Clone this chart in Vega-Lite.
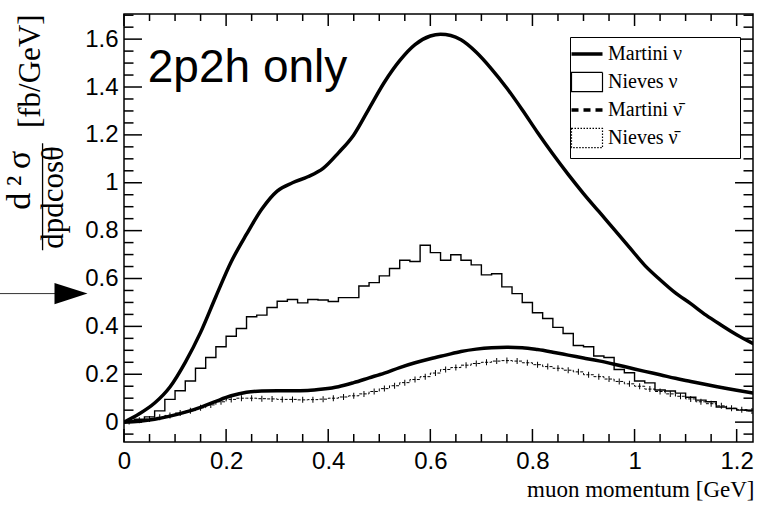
{
  "$schema": "https://vega.github.io/schema/vega-lite/v6.json",
  "width": 629,
  "height": 428,
  "autosize": {"type": "none"},
  "padding": {"left": 124, "top": 14, "right": 11, "bottom": 68},
  "background": "white",
  "config": {"view": {"stroke": "#000", "strokeWidth": 1.5}, "font": "Liberation Sans"},
  "datasets": {
    "curves": [
      {"p": 0, "series": "Martini ν", "v": 0},
      {"p": 0.03, "series": "Martini ν", "v": 0.035},
      {"p": 0.06, "series": "Martini ν", "v": 0.08},
      {"p": 0.09, "series": "Martini ν", "v": 0.147},
      {"p": 0.12, "series": "Martini ν", "v": 0.25},
      {"p": 0.15, "series": "Martini ν", "v": 0.375},
      {"p": 0.18, "series": "Martini ν", "v": 0.525},
      {"p": 0.21, "series": "Martini ν", "v": 0.67},
      {"p": 0.24, "series": "Martini ν", "v": 0.785},
      {"p": 0.27, "series": "Martini ν", "v": 0.89},
      {"p": 0.30, "series": "Martini ν", "v": 0.965},
      {"p": 0.33, "series": "Martini ν", "v": 1.0},
      {"p": 0.36, "series": "Martini ν", "v": 1.025},
      {"p": 0.39, "series": "Martini ν", "v": 1.06},
      {"p": 0.42, "series": "Martini ν", "v": 1.125},
      {"p": 0.45, "series": "Martini ν", "v": 1.2},
      {"p": 0.48, "series": "Martini ν", "v": 1.31},
      {"p": 0.51, "series": "Martini ν", "v": 1.42},
      {"p": 0.54, "series": "Martini ν", "v": 1.51},
      {"p": 0.57, "series": "Martini ν", "v": 1.577},
      {"p": 0.60, "series": "Martini ν", "v": 1.613},
      {"p": 0.62, "series": "Martini ν", "v": 1.62},
      {"p": 0.64, "series": "Martini ν", "v": 1.615},
      {"p": 0.66, "series": "Martini ν", "v": 1.597},
      {"p": 0.69, "series": "Martini ν", "v": 1.545},
      {"p": 0.72, "series": "Martini ν", "v": 1.475},
      {"p": 0.75, "series": "Martini ν", "v": 1.395},
      {"p": 0.78, "series": "Martini ν", "v": 1.305},
      {"p": 0.81, "series": "Martini ν", "v": 1.21},
      {"p": 0.84, "series": "Martini ν", "v": 1.12},
      {"p": 0.87, "series": "Martini ν", "v": 1.035},
      {"p": 0.90, "series": "Martini ν", "v": 0.955},
      {"p": 0.93, "series": "Martini ν", "v": 0.88},
      {"p": 0.96, "series": "Martini ν", "v": 0.805},
      {"p": 0.99, "series": "Martini ν", "v": 0.73},
      {"p": 1.02, "series": "Martini ν", "v": 0.655},
      {"p": 1.05, "series": "Martini ν", "v": 0.595},
      {"p": 1.08, "series": "Martini ν", "v": 0.54},
      {"p": 1.11, "series": "Martini ν", "v": 0.495},
      {"p": 1.14, "series": "Martini ν", "v": 0.447},
      {"p": 1.17, "series": "Martini ν", "v": 0.405},
      {"p": 1.20, "series": "Martini ν", "v": 0.365},
      {"p": 1.235, "series": "Martini ν", "v": 0.325},
      {"p": 0, "series": "Martini \u03bd\u0304", "v": 0},
      {"p": 0.03, "series": "Martini \u03bd\u0304", "v": 0.004},
      {"p": 0.06, "series": "Martini \u03bd\u0304", "v": 0.012},
      {"p": 0.09, "series": "Martini \u03bd\u0304", "v": 0.025},
      {"p": 0.12, "series": "Martini \u03bd\u0304", "v": 0.042},
      {"p": 0.15, "series": "Martini \u03bd\u0304", "v": 0.062},
      {"p": 0.18, "series": "Martini \u03bd\u0304", "v": 0.087},
      {"p": 0.21, "series": "Martini \u03bd\u0304", "v": 0.11},
      {"p": 0.24, "series": "Martini \u03bd\u0304", "v": 0.125},
      {"p": 0.27, "series": "Martini \u03bd\u0304", "v": 0.13},
      {"p": 0.30, "series": "Martini \u03bd\u0304", "v": 0.131},
      {"p": 0.33, "series": "Martini \u03bd\u0304", "v": 0.131},
      {"p": 0.36, "series": "Martini \u03bd\u0304", "v": 0.132},
      {"p": 0.39, "series": "Martini \u03bd\u0304", "v": 0.138},
      {"p": 0.42, "series": "Martini \u03bd\u0304", "v": 0.148},
      {"p": 0.45, "series": "Martini \u03bd\u0304", "v": 0.165},
      {"p": 0.48, "series": "Martini \u03bd\u0304", "v": 0.185},
      {"p": 0.51, "series": "Martini \u03bd\u0304", "v": 0.205},
      {"p": 0.54, "series": "Martini \u03bd\u0304", "v": 0.228},
      {"p": 0.57, "series": "Martini \u03bd\u0304", "v": 0.248},
      {"p": 0.60, "series": "Martini \u03bd\u0304", "v": 0.265},
      {"p": 0.63, "series": "Martini \u03bd\u0304", "v": 0.28},
      {"p": 0.66, "series": "Martini \u03bd\u0304", "v": 0.295},
      {"p": 0.69, "series": "Martini \u03bd\u0304", "v": 0.305},
      {"p": 0.72, "series": "Martini \u03bd\u0304", "v": 0.311},
      {"p": 0.75, "series": "Martini \u03bd\u0304", "v": 0.313},
      {"p": 0.78, "series": "Martini \u03bd\u0304", "v": 0.311},
      {"p": 0.81, "series": "Martini \u03bd\u0304", "v": 0.303},
      {"p": 0.84, "series": "Martini \u03bd\u0304", "v": 0.292},
      {"p": 0.87, "series": "Martini \u03bd\u0304", "v": 0.28},
      {"p": 0.90, "series": "Martini \u03bd\u0304", "v": 0.268},
      {"p": 0.93, "series": "Martini \u03bd\u0304", "v": 0.256},
      {"p": 0.96, "series": "Martini \u03bd\u0304", "v": 0.242},
      {"p": 0.99, "series": "Martini \u03bd\u0304", "v": 0.227},
      {"p": 1.02, "series": "Martini \u03bd\u0304", "v": 0.212},
      {"p": 1.05, "series": "Martini \u03bd\u0304", "v": 0.198},
      {"p": 1.08, "series": "Martini \u03bd\u0304", "v": 0.183},
      {"p": 1.11, "series": "Martini \u03bd\u0304", "v": 0.17},
      {"p": 1.14, "series": "Martini \u03bd\u0304", "v": 0.157},
      {"p": 1.17, "series": "Martini \u03bd\u0304", "v": 0.145},
      {"p": 1.20, "series": "Martini \u03bd\u0304", "v": 0.133},
      {"p": 1.235, "series": "Martini \u03bd\u0304", "v": 0.12}
    ],
    "nieves_nu": [
      {"p": 0.01, "series": "Nieves ν", "v": 0.004}, {"p": 0.03, "series": "Nieves ν", "v": 0.012},
      {"p": 0.05, "series": "Nieves ν", "v": 0.022}, {"p": 0.07, "series": "Nieves ν", "v": 0.047},
      {"p": 0.09, "series": "Nieves ν", "v": 0.095}, {"p": 0.11, "series": "Nieves ν", "v": 0.131},
      {"p": 0.13, "series": "Nieves ν", "v": 0.172}, {"p": 0.15, "series": "Nieves ν", "v": 0.225},
      {"p": 0.17, "series": "Nieves ν", "v": 0.27}, {"p": 0.19, "series": "Nieves ν", "v": 0.315},
      {"p": 0.21, "series": "Nieves ν", "v": 0.359}, {"p": 0.23, "series": "Nieves ν", "v": 0.391},
      {"p": 0.25, "series": "Nieves ν", "v": 0.44}, {"p": 0.27, "series": "Nieves ν", "v": 0.447},
      {"p": 0.29, "series": "Nieves ν", "v": 0.479}, {"p": 0.31, "series": "Nieves ν", "v": 0.505},
      {"p": 0.33, "series": "Nieves ν", "v": 0.512}, {"p": 0.35, "series": "Nieves ν", "v": 0.498},
      {"p": 0.37, "series": "Nieves ν", "v": 0.512}, {"p": 0.39, "series": "Nieves ν", "v": 0.51},
      {"p": 0.41, "series": "Nieves ν", "v": 0.504}, {"p": 0.43, "series": "Nieves ν", "v": 0.52},
      {"p": 0.45, "series": "Nieves ν", "v": 0.52}, {"p": 0.47, "series": "Nieves ν", "v": 0.569},
      {"p": 0.49, "series": "Nieves ν", "v": 0.583}, {"p": 0.51, "series": "Nieves ν", "v": 0.611},
      {"p": 0.53, "series": "Nieves ν", "v": 0.642}, {"p": 0.55, "series": "Nieves ν", "v": 0.676},
      {"p": 0.57, "series": "Nieves ν", "v": 0.671}, {"p": 0.59, "series": "Nieves ν", "v": 0.739},
      {"p": 0.61, "series": "Nieves ν", "v": 0.708}, {"p": 0.63, "series": "Nieves ν", "v": 0.676},
      {"p": 0.65, "series": "Nieves ν", "v": 0.699}, {"p": 0.67, "series": "Nieves ν", "v": 0.676},
      {"p": 0.69, "series": "Nieves ν", "v": 0.657}, {"p": 0.71, "series": "Nieves ν", "v": 0.615},
      {"p": 0.73, "series": "Nieves ν", "v": 0.62}, {"p": 0.75, "series": "Nieves ν", "v": 0.565},
      {"p": 0.77, "series": "Nieves ν", "v": 0.537}, {"p": 0.79, "series": "Nieves ν", "v": 0.5},
      {"p": 0.81, "series": "Nieves ν", "v": 0.457}, {"p": 0.83, "series": "Nieves ν", "v": 0.433},
      {"p": 0.85, "series": "Nieves ν", "v": 0.396}, {"p": 0.87, "series": "Nieves ν", "v": 0.37},
      {"p": 0.89, "series": "Nieves ν", "v": 0.32}, {"p": 0.91, "series": "Nieves ν", "v": 0.315},
      {"p": 0.93, "series": "Nieves ν", "v": 0.276}, {"p": 0.95, "series": "Nieves ν", "v": 0.27},
      {"p": 0.97, "series": "Nieves ν", "v": 0.22}, {"p": 0.99, "series": "Nieves ν", "v": 0.206},
      {"p": 1.01, "series": "Nieves ν", "v": 0.172}, {"p": 1.03, "series": "Nieves ν", "v": 0.164},
      {"p": 1.05, "series": "Nieves ν", "v": 0.134}, {"p": 1.07, "series": "Nieves ν", "v": 0.13},
      {"p": 1.09, "series": "Nieves ν", "v": 0.121}, {"p": 1.11, "series": "Nieves ν", "v": 0.104},
      {"p": 1.13, "series": "Nieves ν", "v": 0.092}, {"p": 1.15, "series": "Nieves ν", "v": 0.085},
      {"p": 1.17, "series": "Nieves ν", "v": 0.063}, {"p": 1.19, "series": "Nieves ν", "v": 0.057},
      {"p": 1.21, "series": "Nieves ν", "v": 0.05}, {"p": 1.23, "series": "Nieves ν", "v": 0.047}
    ],
    "nieves_nubar": [
      {"p": 0.01, "series": "Nieves \u03bd\u0304", "v": 0.003}, {"p": 0.03, "series": "Nieves \u03bd\u0304", "v": 0.008},
      {"p": 0.05, "series": "Nieves \u03bd\u0304", "v": 0.013}, {"p": 0.07, "series": "Nieves \u03bd\u0304", "v": 0.02},
      {"p": 0.09, "series": "Nieves \u03bd\u0304", "v": 0.028}, {"p": 0.11, "series": "Nieves \u03bd\u0304", "v": 0.038},
      {"p": 0.13, "series": "Nieves \u03bd\u0304", "v": 0.048}, {"p": 0.15, "series": "Nieves \u03bd\u0304", "v": 0.06},
      {"p": 0.17, "series": "Nieves \u03bd\u0304", "v": 0.072}, {"p": 0.19, "series": "Nieves \u03bd\u0304", "v": 0.085},
      {"p": 0.21, "series": "Nieves \u03bd\u0304", "v": 0.095}, {"p": 0.23, "series": "Nieves \u03bd\u0304", "v": 0.1},
      {"p": 0.25, "series": "Nieves \u03bd\u0304", "v": 0.1}, {"p": 0.27, "series": "Nieves \u03bd\u0304", "v": 0.098},
      {"p": 0.29, "series": "Nieves \u03bd\u0304", "v": 0.097}, {"p": 0.31, "series": "Nieves \u03bd\u0304", "v": 0.095},
      {"p": 0.33, "series": "Nieves \u03bd\u0304", "v": 0.095}, {"p": 0.35, "series": "Nieves \u03bd\u0304", "v": 0.093},
      {"p": 0.37, "series": "Nieves \u03bd\u0304", "v": 0.094}, {"p": 0.39, "series": "Nieves \u03bd\u0304", "v": 0.096},
      {"p": 0.41, "series": "Nieves \u03bd\u0304", "v": 0.1}, {"p": 0.43, "series": "Nieves \u03bd\u0304", "v": 0.105},
      {"p": 0.45, "series": "Nieves \u03bd\u0304", "v": 0.11}, {"p": 0.47, "series": "Nieves \u03bd\u0304", "v": 0.118},
      {"p": 0.49, "series": "Nieves \u03bd\u0304", "v": 0.128}, {"p": 0.51, "series": "Nieves \u03bd\u0304", "v": 0.14},
      {"p": 0.53, "series": "Nieves \u03bd\u0304", "v": 0.152}, {"p": 0.55, "series": "Nieves \u03bd\u0304", "v": 0.165},
      {"p": 0.57, "series": "Nieves \u03bd\u0304", "v": 0.178}, {"p": 0.59, "series": "Nieves \u03bd\u0304", "v": 0.19},
      {"p": 0.61, "series": "Nieves \u03bd\u0304", "v": 0.205}, {"p": 0.63, "series": "Nieves \u03bd\u0304", "v": 0.22},
      {"p": 0.65, "series": "Nieves \u03bd\u0304", "v": 0.228}, {"p": 0.67, "series": "Nieves \u03bd\u0304", "v": 0.238},
      {"p": 0.69, "series": "Nieves \u03bd\u0304", "v": 0.245}, {"p": 0.71, "series": "Nieves \u03bd\u0304", "v": 0.25},
      {"p": 0.73, "series": "Nieves \u03bd\u0304", "v": 0.255}, {"p": 0.75, "series": "Nieves \u03bd\u0304", "v": 0.257},
      {"p": 0.77, "series": "Nieves \u03bd\u0304", "v": 0.255}, {"p": 0.79, "series": "Nieves \u03bd\u0304", "v": 0.248},
      {"p": 0.81, "series": "Nieves \u03bd\u0304", "v": 0.24}, {"p": 0.83, "series": "Nieves \u03bd\u0304", "v": 0.232},
      {"p": 0.85, "series": "Nieves \u03bd\u0304", "v": 0.225}, {"p": 0.87, "series": "Nieves \u03bd\u0304", "v": 0.217},
      {"p": 0.89, "series": "Nieves \u03bd\u0304", "v": 0.21}, {"p": 0.91, "series": "Nieves \u03bd\u0304", "v": 0.198},
      {"p": 0.93, "series": "Nieves \u03bd\u0304", "v": 0.19}, {"p": 0.95, "series": "Nieves \u03bd\u0304", "v": 0.18},
      {"p": 0.97, "series": "Nieves \u03bd\u0304", "v": 0.17}, {"p": 0.99, "series": "Nieves \u03bd\u0304", "v": 0.16},
      {"p": 1.01, "series": "Nieves \u03bd\u0304", "v": 0.15}, {"p": 1.03, "series": "Nieves \u03bd\u0304", "v": 0.138},
      {"p": 1.05, "series": "Nieves \u03bd\u0304", "v": 0.128}, {"p": 1.07, "series": "Nieves \u03bd\u0304", "v": 0.118},
      {"p": 1.09, "series": "Nieves \u03bd\u0304", "v": 0.108}, {"p": 1.11, "series": "Nieves \u03bd\u0304", "v": 0.097},
      {"p": 1.13, "series": "Nieves \u03bd\u0304", "v": 0.085}, {"p": 1.15, "series": "Nieves \u03bd\u0304", "v": 0.077},
      {"p": 1.17, "series": "Nieves \u03bd\u0304", "v": 0.068}, {"p": 1.19, "series": "Nieves \u03bd\u0304", "v": 0.058},
      {"p": 1.21, "series": "Nieves \u03bd\u0304", "v": 0.052}, {"p": 1.23, "series": "Nieves \u03bd\u0304", "v": 0.047}
    ],
    "xmaj": [{"q": 0}, {"q": 0.2}, {"q": 0.4}, {"q": 0.6}, {"q": 0.8}, {"q": 1.0}, {"q": 1.2}],
    "xmin": [{"q": 0.05}, {"q": 0.1}, {"q": 0.15}, {"q": 0.25}, {"q": 0.3}, {"q": 0.35}, {"q": 0.45}, {"q": 0.5}, {"q": 0.55}, {"q": 0.65}, {"q": 0.7}, {"q": 0.75}, {"q": 0.85}, {"q": 0.9}, {"q": 0.95}, {"q": 1.05}, {"q": 1.1}, {"q": 1.15}],
    "ymaj": [{"q": 0}, {"q": 0.2}, {"q": 0.4}, {"q": 0.6}, {"q": 0.8}, {"q": 1.0}, {"q": 1.2}, {"q": 1.4}, {"q": 1.6}],
    "ymin": [{"q": -0.05}, {"q": 0.05}, {"q": 0.1}, {"q": 0.15}, {"q": 0.25}, {"q": 0.3}, {"q": 0.35}, {"q": 0.45}, {"q": 0.5}, {"q": 0.55}, {"q": 0.65}, {"q": 0.7}, {"q": 0.75}, {"q": 0.85}, {"q": 0.9}, {"q": 0.95}, {"q": 1.05}, {"q": 1.1}, {"q": 1.15}, {"q": 1.25}, {"q": 1.3}, {"q": 1.35}, {"q": 1.45}, {"q": 1.5}, {"q": 1.55}, {"q": 1.65}, {"q": 1.7}]
  },
  "layer": [
    {
      "data": {"name": "curves"},
      "mark": {"type": "line", "strokeWidth": 3.5, "interpolate": "monotone", "clip": true},
      "encoding": {
        "x": {
          "field": "p", "type": "quantitative",
          "scale": {"domain": [0, 1.232], "nice": false, "zero": false},
          "axis": {
            "orient": "bottom",
            "values": [0, 0.2, 0.4, 0.6, 0.8, 1, 1.2],
            "format": "~g",
            "labelFont": "Liberation Sans", "labelFontSize": 24, "labelColor": "#000",
            "labelPadding": 7, "labelOverlap": false, "labelFlush": false, "labelBound": false,
            "ticks": false, "domain": false, "grid": false,
            "title": "muon momentum [GeV]",
            "titleFont": "Liberation Serif", "titleFontSize": 23, "titleFontWeight": "normal", "titleColor": "#000",
            "titleAnchor": "end", "titleAlign": "right", "titleBaseline": "alphabetic", "titleX": 630, "titleY": 54
          }
        },
        "y": {
          "field": "v", "type": "quantitative",
          "scale": {"domain": [-0.083, 1.705], "nice": false, "zero": false},
          "axis": {
            "orient": "left",
            "values": [0, 0.2, 0.4, 0.6, 0.8, 1, 1.2, 1.4, 1.6],
            "format": "~g",
            "labelFont": "Liberation Sans", "labelFontSize": 24, "labelColor": "#000",
            "labelPadding": 6, "labelOverlap": false, "labelBound": false, "labelFlush": false,
            "ticks": false, "domain": false, "grid": false,
            "title": "dpdcosθ",
            "titleFont": "Liberation Serif", "titleFontSize": 31, "titleFontWeight": "normal", "titleColor": "#000",
            "titleAngle": 270, "titleAlign": "center", "titleBaseline": "middle",
            "titleX": -71, "titleY": 183
          }
        },
        "color": {
          "field": "series", "type": "nominal",
          "scale": {"domain": ["Martini ν", "Nieves ν", "Martini \u03bd\u0304", "Nieves \u03bd\u0304"], "range": ["#000", "#000", "#000", "#000"]},
          "legend": {
            "orient": "none", "legendX": 446, "legendY": 23,
            "title": "MMM", "titleOrient": "right", "titleOpacity": 0, "titleFontSize": 20, "titlePadding": 1, "titleAngle": 0,
            "direction": "vertical",
            "strokeColor": "#000", "fillColor": "#fff", "padding": 7,
            "labelFont": "Liberation Serif", "labelFontSize": 20, "labelColor": "#000", "labelOffset": 11,
            "symbolSize": 961, "symbolType": "M-1,0H1", "symbolStrokeWidth": 3, "symbolFillColor": "transparent",
            "rowPadding": 5,
            "encode": {
              "symbols": {
                "update": {
                  "shape": {"signal": "datum.index == 0 || datum.index == 2 ? 'M-1,0H1' : 'M-1,-0.62H1V0.62H-1Z'"},
                  "size": {"value": 961},
                  "strokeWidth": {"signal": "datum.index == 0 || datum.index == 2 ? 3.5 : 1.2"},
                  "strokeDash": {"signal": "datum.index == 2 ? [7,5] : datum.index == 3 ? [1.5,1.5] : [1,0]"},
                  "fill": {"value": "transparent"},
                  "fillOpacity": {"value": 0},
                  "stroke": {"value": "#000"},
                  "opacity": {"value": 1}
                }
              }
            }
          }
        },
        "detail": {"field": "series"}
      }
    },
    {
      "data": {"name": "nieves_nu"},
      "mark": {"type": "line", "strokeWidth": 1.4, "interpolate": "step", "clip": true},
      "encoding": {
        "x": {"field": "p", "type": "quantitative", "scale": {"domain": [0, 1.232], "nice": false, "zero": false}, "axis": null},
        "y": {"field": "v", "type": "quantitative", "scale": {"domain": [-0.083, 1.705], "nice": false, "zero": false}, "axis": null},
        "color": {
          "field": "series", "type": "nominal",
          "scale": {"domain": ["Martini ν", "Nieves ν", "Martini \u03bd\u0304", "Nieves \u03bd\u0304"], "range": ["#000", "#000", "#000", "#000"]}
        }
      }
    },
    {
      "data": {"name": "nieves_nubar"},
      "mark": {"type": "line", "strokeWidth": 1, "interpolate": "step", "clip": true, "strokeDash": [3, 1.5]},
      "encoding": {
        "x": {"field": "p", "type": "quantitative", "scale": {"domain": [0, 1.232], "nice": false, "zero": false}, "axis": null},
        "y": {"field": "v", "type": "quantitative", "scale": {"domain": [-0.083, 1.705], "nice": false, "zero": false}, "axis": null},
        "color": {
          "field": "series", "type": "nominal",
          "scale": {"domain": ["Martini ν", "Nieves ν", "Martini \u03bd\u0304", "Nieves \u03bd\u0304"], "range": ["#000", "#000", "#000", "#000"]}
        }
      }
    },
    {
      "data": {"name": "nieves_nubar"},
      "mark": {"type": "tick", "orient": "vertical", "size": 6, "thickness": 1, "clip": true, "opacity": 1},
      "encoding": {
        "x": {"field": "p", "type": "quantitative", "scale": {"domain": [0, 1.232], "nice": false, "zero": false}, "axis": null},
        "y": {"field": "v", "type": "quantitative", "scale": {"domain": [-0.083, 1.705], "nice": false, "zero": false}, "axis": null},
        "color": {
          "field": "series", "type": "nominal",
          "scale": {"domain": ["Martini ν", "Nieves ν", "Martini \u03bd\u0304", "Nieves \u03bd\u0304"], "range": ["#000", "#000", "#000", "#000"]}
        }
      }
    },
    {
      "data": {"name": "xmaj"},
      "mark": {"type": "rule", "strokeWidth": 1.5, "color": "#000", "opacity": 1},
      "encoding": {
        "x": {"field": "q", "type": "quantitative", "scale": {"domain": [0, 1.232], "nice": false, "zero": false}, "axis": null},
        "y": {"datum": -0.083, "type": "quantitative", "scale": {"domain": [-0.083, 1.705], "nice": false, "zero": false}, "axis": null},
        "y2": {"datum": -0.0287}
      }
    },
    {
      "data": {"name": "xmin"},
      "mark": {"type": "rule", "strokeWidth": 1.5, "color": "#000", "opacity": 1},
      "encoding": {
        "x": {"field": "q", "type": "quantitative", "scale": {"domain": [0, 1.232], "nice": false, "zero": false}, "axis": null},
        "y": {"datum": -0.083, "type": "quantitative", "scale": {"domain": [-0.083, 1.705], "nice": false, "zero": false}, "axis": null},
        "y2": {"datum": -0.0496}
      }
    },
    {
      "data": {"name": "xmaj"},
      "mark": {"type": "rule", "strokeWidth": 1.5, "color": "#000", "opacity": 1},
      "encoding": {
        "x": {"field": "q", "type": "quantitative", "scale": {"domain": [0, 1.232], "nice": false, "zero": false}, "axis": null},
        "y": {"datum": 1.705, "type": "quantitative", "scale": {"domain": [-0.083, 1.705], "nice": false, "zero": false}, "axis": null},
        "y2": {"datum": 1.6549}
      }
    },
    {
      "data": {"name": "xmin"},
      "mark": {"type": "rule", "strokeWidth": 1.5, "color": "#000", "opacity": 1},
      "encoding": {
        "x": {"field": "q", "type": "quantitative", "scale": {"domain": [0, 1.232], "nice": false, "zero": false}, "axis": null},
        "y": {"datum": 1.705, "type": "quantitative", "scale": {"domain": [-0.083, 1.705], "nice": false, "zero": false}, "axis": null},
        "y2": {"datum": 1.6758}
      }
    },
    {
      "data": {"name": "ymaj"},
      "mark": {"type": "rule", "strokeWidth": 1.5, "color": "#000", "opacity": 1},
      "encoding": {
        "y": {"field": "q", "type": "quantitative", "scale": {"domain": [-0.083, 1.705], "nice": false, "zero": false}, "axis": null},
        "x": {"datum": 0, "type": "quantitative", "scale": {"domain": [0, 1.232], "nice": false, "zero": false}, "axis": null},
        "x2": {"datum": 0.0352}
      }
    },
    {
      "data": {"name": "ymin"},
      "mark": {"type": "rule", "strokeWidth": 1.5, "color": "#000", "opacity": 1},
      "encoding": {
        "y": {"field": "q", "type": "quantitative", "scale": {"domain": [-0.083, 1.705], "nice": false, "zero": false}, "axis": null},
        "x": {"datum": 0, "type": "quantitative", "scale": {"domain": [0, 1.232], "nice": false, "zero": false}, "axis": null},
        "x2": {"datum": 0.0186}
      }
    },
    {
      "data": {"name": "ymaj"},
      "mark": {"type": "rule", "strokeWidth": 1.5, "color": "#000", "opacity": 1},
      "encoding": {
        "y": {"field": "q", "type": "quantitative", "scale": {"domain": [-0.083, 1.705], "nice": false, "zero": false}, "axis": null},
        "x": {"datum": 1.232, "type": "quantitative", "scale": {"domain": [0, 1.232], "nice": false, "zero": false}, "axis": null},
        "x2": {"datum": 1.1968}
      }
    },
    {
      "data": {"name": "ymin"},
      "mark": {"type": "rule", "strokeWidth": 1.5, "color": "#000", "opacity": 1},
      "encoding": {
        "y": {"field": "q", "type": "quantitative", "scale": {"domain": [-0.083, 1.705], "nice": false, "zero": false}, "axis": null},
        "x": {"datum": 1.232, "type": "quantitative", "scale": {"domain": [0, 1.232], "nice": false, "zero": false}, "axis": null},
        "x2": {"datum": 1.2134}
      }
    },
    {
      "data": {"values": [{}]},
      "mark": {"type": "text", "font": "Liberation Sans", "fontSize": 46, "align": "left", "baseline": "alphabetic", "color": "#000"},
      "encoding": {
        "x": {"datum": 0.0466, "type": "quantitative", "scale": {"domain": [0, 1.232], "nice": false, "zero": false}, "axis": null},
        "y": {"datum": 1.421, "type": "quantitative", "scale": {"domain": [-0.083, 1.705], "nice": false, "zero": false}, "axis": null},
        "text": {"value": "2p2h only"}
      }
    },
    {
      "data": {"values": [{}]},
      "mark": {"type": "text", "font": "Liberation Serif", "fontSize": 34, "align": "center", "baseline": "middle", "angle": 270, "color": "#000"},
      "encoding": {
        "x": {"datum": -0.2046, "type": "quantitative", "scale": {"domain": [0, 1.232], "nice": false, "zero": false}, "axis": null},
        "y": {"datum": 1.0104, "type": "quantitative", "scale": {"domain": [-0.083, 1.705], "nice": false, "zero": false}, "axis": null},
        "text": {"value": "d\u2009²\u2009σ"}
      }
    },
    {
      "data": {"values": [{}]},
      "mark": {"type": "text", "font": "Liberation Serif", "fontSize": 31, "align": "center", "baseline": "middle", "angle": 270, "color": "#000"},
      "encoding": {
        "x": {"datum": -0.182, "type": "quantitative", "scale": {"domain": [0, 1.232], "nice": false, "zero": false}, "axis": null},
        "y": {"datum": 1.466, "type": "quantitative", "scale": {"domain": [-0.083, 1.705], "nice": false, "zero": false}, "axis": null},
        "text": {"value": "[fb/GeV]"}
      }
    },
    {
      "data": {"values": [{}]},
      "mark": {"type": "rule", "color": "#000", "strokeWidth": 1.3},
      "encoding": {
        "x": {"datum": -0.1595, "type": "quantitative", "scale": {"domain": [0, 1.232], "nice": false, "zero": false}, "axis": null},
        "y": {"datum": 0.718, "type": "quantitative", "scale": {"domain": [-0.083, 1.705], "nice": false, "zero": false}, "axis": null},
        "y2": {"datum": 1.165}
      }
    },
    {
      "data": {"values": [{}]},
      "mark": {"type": "rule", "color": "#333", "strokeWidth": 1},
      "encoding": {
        "x": {"datum": -0.2437, "type": "quantitative", "scale": {"domain": [0, 1.232], "nice": false, "zero": false}, "axis": null},
        "x2": {"datum": -0.12},
        "y": {"datum": 0.537, "type": "quantitative", "scale": {"domain": [-0.083, 1.705], "nice": false, "zero": false}, "axis": null}
      }
    },
    {
      "data": {"values": [{}]},
      "mark": {"type": "point", "shape": "M-1,-0.64L1,0L-1,0.64Z", "filled": true, "size": 1089, "color": "#000", "opacity": 1},
      "encoding": {
        "x": {"datum": -0.1038, "type": "quantitative", "scale": {"domain": [0, 1.232], "nice": false, "zero": false}, "axis": null},
        "y": {"datum": 0.537, "type": "quantitative", "scale": {"domain": [-0.083, 1.705], "nice": false, "zero": false}, "axis": null}
      }
    }
  ],
  "resolve": {"axis": {"x": "independent", "y": "independent"}}
}
